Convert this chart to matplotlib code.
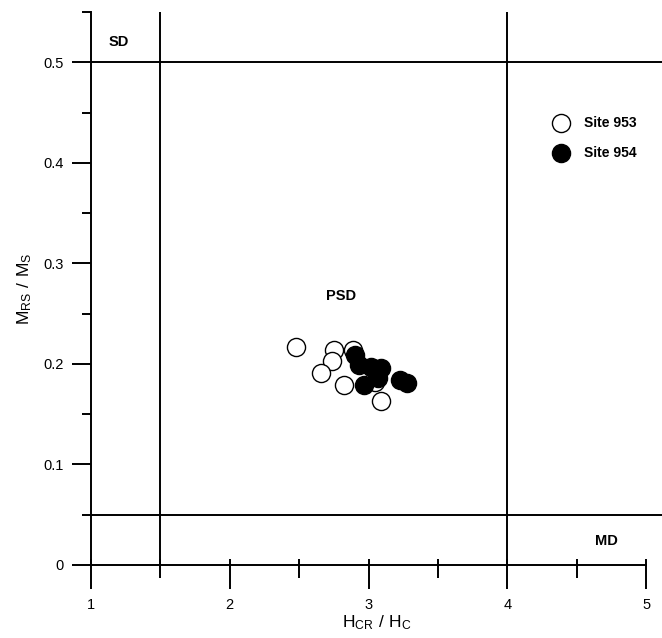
import numpy as np
import matplotlib
matplotlib.use("Agg")
import matplotlib.pyplot as plt
from matplotlib.ticker import MultipleLocator

plt.rcParams["font.family"] = ["Liberation Sans", "DejaVu Sans"]

# Site 953 (open) and Site 954 (filled)
hcr_953 = [2.48, 2.75, 2.89, 2.74, 2.66, 2.82, 3.09, 3.05]
mrs_953 = [0.217, 0.214, 0.214, 0.203, 0.191, 0.179, 0.163, 0.182]
hcr_954 = [2.90, 2.93, 3.02, 3.09, 2.97, 3.07, 3.23, 3.28]
mrs_954 = [0.209, 0.199, 0.197, 0.196, 0.179, 0.186, 0.184, 0.181]

# domain boundaries
x_bounds = [1.5, 4.0]
y_bounds = [0.05, 0.5]
regions = [("SD", 1.13, 0.52), ("PSD", 2.69, 0.268), ("MD", 4.63, 0.024)]

fig = plt.figure(figsize=(6.62, 6.38), dpi=100)
ax = fig.add_axes([91 / 662, 73 / 638, 571 / 662, 553 / 638])

for xb in x_bounds:
    ax.axvline(xb, color="black", lw=1.4, zorder=1)
for yb in y_bounds:
    ax.axhline(yb, color="black", lw=1.4, zorder=1)

ax.scatter(hcr_953, mrs_953, s=170, facecolors="white", edgecolors="black",
           linewidths=1.0, zorder=3, label="Site 953")
ax.scatter(hcr_954, mrs_954, s=170, facecolors="black", edgecolors="black",
           linewidths=1.0, zorder=4, label="Site 954")

for name, xt, yt in regions:
    ax.text(xt, yt, name, fontsize=10.5, fontweight="bold", ha="left", va="center")

ax.set_xlim(1, 5.115)
ax.set_ylim(0, 0.55)
ax.spines["top"].set_visible(False)
ax.spines["right"].set_visible(False)
ax.spines["bottom"].set_bounds(1, 5)
for sp in ("left", "bottom"):
    ax.spines[sp].set_linewidth(1.4)

ax.xaxis.set_minor_locator(MultipleLocator(0.5))
ax.yaxis.set_minor_locator(MultipleLocator(0.05))
ax.set_xticks([1, 2, 3, 4, 5])
ax.set_xticklabels(["1", "2", "3", "4", "5"])
ax.set_yticks([0, 0.1, 0.2, 0.3, 0.4, 0.5])
ax.set_yticklabels(["0", "0.1", "0.2", "0.3", "0.4", "0.5"])

ax.tick_params(axis="x", which="major", direction="out", length=17, width=1.4,
               pad=7, labelsize=10.5)
ax.tick_params(axis="x", which="minor", direction="out", length=9.5, width=1.4)
ax.tick_params(axis="y", which="major", direction="out", length=13.5, width=1.4,
               pad=6, labelsize=10.5)
ax.tick_params(axis="y", which="minor", direction="out", length=6.5, width=1.4)

# short inward part of the x ticks
sec = ax.secondary_xaxis("bottom")
sec.xaxis.set_major_locator(MultipleLocator(0.5))
sec.tick_params(direction="in", length=4, width=1.4, labelbottom=False)
sec.spines["bottom"].set_visible(False)

ax.set_xlabel(r"$\mathregular{H_{CR}\ /\ H_C}$", fontsize=12.5, labelpad=1)
ax.set_ylabel(r"$\mathregular{M_{RS}\ /\ M_S}$", fontsize=12.5, labelpad=7)

leg = ax.legend(loc="upper left", bbox_to_anchor=(544 / 662, 529 / 638),
                bbox_transform=fig.transFigure, frameon=False, borderpad=0,
                handlelength=1.4, handletextpad=1.0, labelspacing=1.15,
                prop={"weight": "bold", "size": 10})

fig.savefig("out.png", dpi=100)
